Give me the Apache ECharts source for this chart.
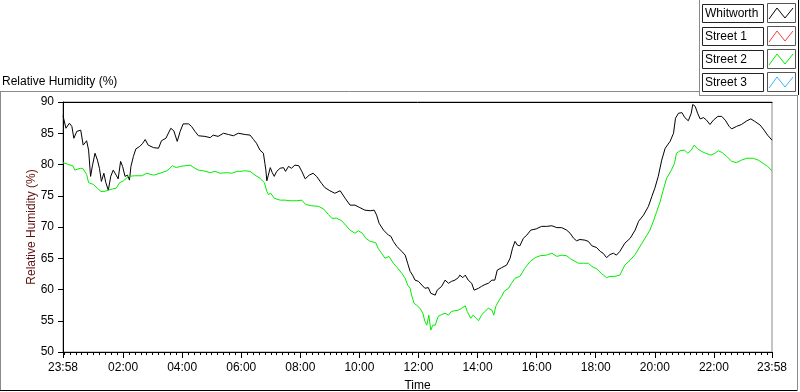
<!DOCTYPE html>
<html style="height: 100%">
<head>
    <meta charset="utf-8">
    <title>Relative Humidity</title>
    <script src="https://cdn.jsdelivr.net/npm/echarts@6/dist/echarts.min.js"></script>
</head>
<body style="height: 100%; margin: 0; background: #fff">
    <div id="main" style="width: 800px; height: 392px"></div>
    <script>
        // time axis: minutes after 23:58 (start of log)
        var startClock = 23 * 60 + 58;
        var majorTicks = [0, 122, 242, 362, 482, 602, 722, 842, 962, 1082, 1202, 1322, 1440];

        var seriesNames = ['Whitworth', 'Street 1', 'Street 2', 'Street 3'];
        var seriesColors = ['#000000', '#ff3b3b', '#00ee00', '#33b5ff'];

        // Whitworth (black)
        var whitworthTime = [0,6,13,18,22,28,36,41,48,52,56,60,65,70,74,78,83,87,92,97,102,108,112,117,121,126,131,135,138,143,148,156,162,167,173,184,194,200,209,219,225,232,238,244,255,261,268,275,288,299,305,315,326,336,346,356,370,380,387,393,400,407,410,412,414,417,421,425,429,434,441,448,452,458,464,471,479,485,492,500,508,515,525,532,542,552,563,573,583,593,603,613,624,632,637,642,651,661,666,671,678,688,695,700,705,710,715,722,729,735,742,747,756,760,769,776,783,789,796,803,806,812,817,823,830,835,844,850,857,864,871,877,882,891,901,908,913,918,923,928,935,942,950,961,972,982,993,1003,1013,1023,1030,1037,1043,1050,1060,1067,1074,1084,1091,1097,1104,1111,1118,1124,1131,1141,1152,1162,1169,1179,1189,1196,1202,1209,1216,1223,1233,1240,1244,1250,1257,1263,1270,1276,1279,1284,1289,1294,1301,1307,1314,1321,1330,1338,1345,1353,1358,1368,1378,1389,1397,1405,1416,1424,1431,1440];
        var whitworthRH = [87.8,85.8,86.6,86.1,84.2,85.3,85.5,83.1,83.8,82.3,78.1,79.9,81.8,80.7,79.4,77.3,78.6,77.1,75.9,78.1,79.1,78.3,77.7,80.5,79.7,78.1,78.3,77.5,79.7,81.3,82.5,82.9,83.4,84.0,83.1,82.7,82.6,83.8,84.2,85.8,85.4,83.7,85.3,86.5,86.5,86.1,85.3,84.6,84.5,84.3,84.7,84.5,85.0,84.8,84.6,85.0,84.8,84.7,84.0,83.4,82.3,81.8,80.2,79.1,77.4,78.3,79.5,78.7,78.1,78.9,79.4,79.5,78.9,79.7,79.4,79.9,79.8,78.9,77.7,78.3,78.6,78.1,77.0,76.3,75.8,75.4,75.8,74.6,73.5,73.5,73.1,72.7,72.6,72.7,71.9,70.6,69.5,68.7,68.5,67.7,66.9,66.1,65.5,64.2,62.9,62.3,61.5,61.3,60.7,60.2,60.3,59.4,59.1,59.9,60.5,61.5,61.0,61.3,61.5,61.9,62.3,61.9,62.3,61.5,61.0,59.9,60.2,60.5,60.8,61.0,61.5,61.5,63.1,63.5,63.9,65.0,66.6,67.7,67.1,67.0,68.2,68.7,69.5,69.7,70.1,70.1,70.2,69.9,69.9,69.5,69.0,68.2,67.8,68.0,67.9,67.7,67.0,66.7,66.1,65.8,65.1,65.6,65.8,65.5,66.1,67.4,68.2,69.5,70.9,71.9,73.3,74.9,76.2,78.1,80.7,82.6,83.7,85.0,87.4,88.2,88.3,87.5,87.0,88.2,89.6,89.3,88.2,87.3,87.5,87.1,86.4,87.1,87.7,87.7,87.1,86.1,85.7,86.1,86.4,87.0,87.3,86.9,86.3,85.5,84.7,83.9];

        // Street 2 (green)
        var street2Time = [0,11,20,24,35,41,48,52,62,70,77,85,92,101,108,115,123,133,146,160,170,184,197,211,217,222,230,238,248,258,268,275,285,299,309,319,332,343,353,359,370,380,390,400,409,414,417,422,429,441,451,461,475,485,493,505,519,529,539,546,556,566,574,583,593,600,608,615,624,635,640,647,654,662,671,680,688,695,700,705,708,713,718,725,731,735,739,743,747,751,756,762,769,776,783,789,796,803,810,817,821,828,833,839,844,850,857,864,871,875,879,886,891,896,905,911,918,928,938,949,959,969,982,993,1003,1013,1023,1031,1040,1047,1057,1067,1074,1084,1093,1097,1104,1111,1121,1131,1141,1152,1162,1172,1182,1192,1199,1206,1213,1219,1226,1235,1242,1246,1253,1262,1269,1276,1282,1289,1297,1305,1316,1324,1331,1339,1348,1358,1368,1378,1389,1402,1412,1422,1431,1440];
        var street2RH = [80.3,80.0,79.8,79.1,79.4,79.3,78.4,77.1,76.8,76.2,75.7,75.7,75.9,76.1,76.2,77.1,77.4,78.1,78.2,78.2,78.6,78.3,78.6,79.0,79.4,79.8,79.5,79.7,79.8,79.9,79.4,79.1,79.0,78.7,78.9,78.6,78.7,78.6,78.9,78.9,79.0,78.9,78.3,77.8,77.1,75.7,75.2,75.4,74.6,74.3,74.3,74.2,74.2,74.3,73.6,73.4,73.3,72.9,72.0,71.4,71.4,71.0,70.3,69.5,69.0,69.4,69.0,68.2,67.7,67.5,66.6,65.8,65.0,65.3,64.2,63.4,62.6,61.8,60.7,60.2,59.1,57.8,57.5,57.0,56.2,54.9,54.3,55.9,53.5,54.3,54.3,55.7,56.0,56.2,55.9,56.5,56.6,56.7,57.0,57.4,56.5,55.4,55.9,55.4,55.0,55.9,56.5,57.0,56.7,55.9,57.3,58.3,58.9,59.7,60.2,61.0,61.8,62.1,63.4,64.5,65.1,65.4,65.5,65.8,65.3,65.5,65.4,64.9,64.5,64.2,64.2,64.2,63.7,63.3,62.6,62.9,61.9,62.1,62.1,62.3,63.9,64.7,65.6,66.9,68.2,69.5,70.9,72.5,74.1,75.9,77.8,79.0,80.2,81.8,82.2,82.3,81.8,82.3,83.1,82.5,82.1,81.8,81.5,81.8,82.2,81.9,81.3,80.5,80.3,80.7,81.0,81.0,80.7,80.2,79.7,79.0];

        var minorTicks = [];
        for (var m = 2; m <= 1440; m += 12) minorTicks.push(m);

        function pairs(ts, vs) {
            return ts.map(function (t, i) { return [t, vs[i]]; });
        }
        function clock(t) {
            var c = (startClock + Math.round(t)) % 1440;
            var h = Math.floor(c / 60), mm = c % 60;
            return (h < 10 ? '0' : '') + h + ':' + (mm < 10 ? '0' : '') + mm;
        }

        var FONT = 'Liberation Sans, Arial, sans-serif';

        // legend boxes and frame lines (LabVIEW style)
        var graphics = [];
        function hline(x1, x2, y, c) {
            graphics.push({ type: 'line', shape: { x1: x1, y1: y, x2: x2, y2: y }, style: { stroke: c, lineWidth: 1 }, silent: true });
        }
        function vline(x, y1, y2, c) {
            graphics.push({ type: 'line', shape: { x1: x, y1: y1, x2: x, y2: y2 }, style: { stroke: c, lineWidth: 1 }, silent: true });
        }
        hline(0, 699, 91.5, '#8a8a8a');
        vline(0.5, 91, 391, '#8a8a8a');
        hline(0, 798, 390.5, '#000');
        vline(797.5, 96, 391, '#8a8a8a');
        vline(699.5, 0, 95, '#8a8a8a');
        hline(699, 798, 95.5, '#8a8a8a');
        vline(798.5, 0, 95, '#000');

        seriesNames.forEach(function (name, i) {
            var y0 = 4 + 23 * i;
            graphics.push({
                type: 'rect', shape: { x: 702.5, y: y0 + 0.5, width: 61, height: 18 },
                style: { fill: '#fff', stroke: '#222', lineWidth: 1 }, silent: true
            });
            graphics.push({
                type: 'text', x: 705, y: y0 + 10,
                style: { text: name, font: '12px ' + FONT, fill: '#000', verticalAlign: 'middle' }, silent: true
            });
            graphics.push({
                type: 'rect', shape: { x: 767.5, y: y0 - 0.5, width: 28, height: 19 },
                style: { fill: '#fff', stroke: '#555', lineWidth: 1 }, silent: true
            });
            graphics.push({
                type: 'polyline',
                shape: { points: [[769, y0 + 15], [777, y0 + 4], [785, y0 + 14], [793, y0 + 4]] },
                style: { stroke: seriesColors[i], fill: null, lineWidth: 1 }, silent: true
            });
        });

        var chart = echarts.init(document.getElementById('main'), null, { renderer: 'canvas' });
        chart.setOption({
            animation: false,
            backgroundColor: '#fff',
            textStyle: { fontFamily: FONT },
            title: {
                text: 'Relative Humidity (%)',
                left: 2, top: 76, padding: 0,
                textStyle: { fontSize: 12, fontWeight: 'normal', color: '#000', fontFamily: FONT }
            },
            grid: {
                left: 63, right: 28, top: 102, bottom: 40,
                outerBoundsMode: 'none',
                show: true, borderColor: '#8a8a8a', borderWidth: 1, backgroundColor: '#fff'
            },
            xAxis: [{
                type: 'value', min: 0, max: 1440, position: 'bottom',
                name: 'Time', nameLocation: 'middle', nameGap: 28, nameMoveOverlap: false,
                nameTextStyle: { fontSize: 12, color: '#000' },
                axisLine: { show: true, lineStyle: { color: '#000', width: 1 } },
                axisTick: { show: true, customValues: majorTicks, length: 6, lineStyle: { color: '#000' } },
                axisLabel: {
                    customValues: majorTicks, margin: 10, fontSize: 12, color: '#000',
                    formatter: function (v) { return clock(v); }
                },
                splitLine: { show: false }
            }, {
                type: 'value', min: 0, max: 1440, position: 'bottom',
                axisLine: { show: false },
                axisTick: { show: true, customValues: minorTicks, length: 3, lineStyle: { color: '#000' } },
                axisLabel: { show: false },
                splitLine: { show: false }
            }, {
                type: 'value', min: 0, max: 1440, position: 'top',
                axisLine: { show: true, lineStyle: { color: '#000', width: 1 } },
                axisTick: { show: false },
                axisLabel: { show: false },
                splitLine: { show: false }
            }],
            yAxis: {
                type: 'value', min: 50, max: 90, interval: 5,
                name: 'Relative Humidity (%)', nameLocation: 'middle', nameGap: 25, nameRotate: 90,
                nameMoveOverlap: false,
                nameTextStyle: { fontSize: 12, color: '#5e1010' },
                axisLine: { show: true, lineStyle: { color: '#000', width: 1 } },
                axisTick: { show: true, length: 5, lineStyle: { color: '#000' } },
                axisLabel: { margin: 9, fontSize: 12, color: '#000' },
                splitLine: { show: false }
            },
            graphic: graphics,
            series: [{
                name: seriesNames[0], type: 'line', xAxisIndex: 0,
                data: pairs(whitworthTime, whitworthRH),
                showSymbol: false, lineStyle: { color: seriesColors[0], width: 1 }
            }, {
                name: seriesNames[2], type: 'line', xAxisIndex: 0,
                data: pairs(street2Time, street2RH),
                showSymbol: false, lineStyle: { color: seriesColors[2], width: 1 }
            }]
        });
    </script>
</body>
</html>
